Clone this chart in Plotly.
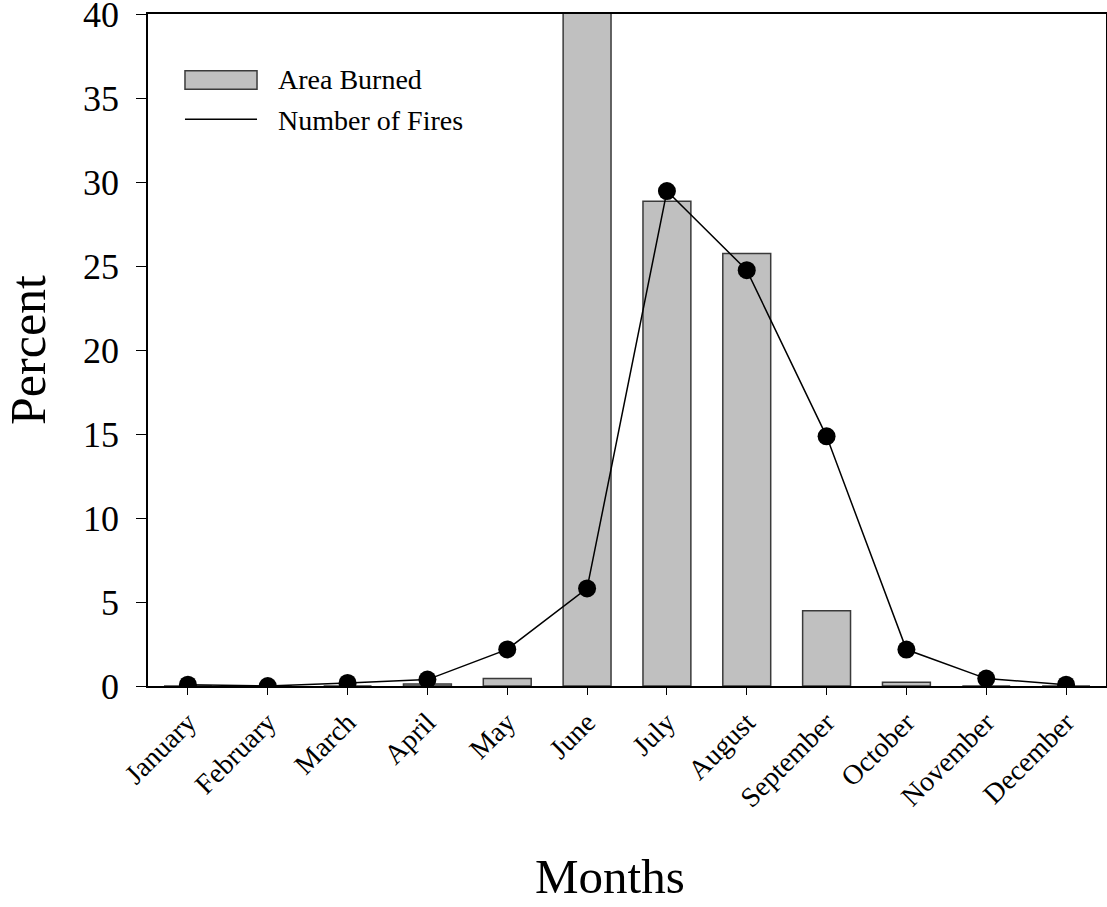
import plotly.graph_objects as go

months = ["January", "February", "March", "April", "May", "June",
          "July", "August", "September", "October", "November", "December"]
area_burned = [0.0, 0.0, 0.0, 0.12, 0.44, 42.0, 28.85, 25.75, 4.48, 0.22, 0.0, 0.0]
number_of_fires = [0.08, 0.0, 0.18, 0.38, 2.18, 5.81, 29.46, 24.75, 14.86, 2.17, 0.44, 0.08]
y_ticks = [0, 5, 10, 15, 20, 25, 30, 35, 40]
legend_labels = ["Area Burned", "Number of Fires"]

FONT = "Liberation Serif"
BAR_FILL = "#c0c0c0"
BAR_EDGE = "#3a3a3a"

fig = go.Figure()
fig.add_trace(go.Bar(
    x=months, y=area_burned, name=legend_labels[0], width=0.6, showlegend=False,
    marker=dict(color=BAR_FILL, line=dict(color=BAR_EDGE, width=1.5)),
))
fig.add_trace(go.Scatter(
    x=months, y=number_of_fires, mode="lines+markers", name=legend_labels[1],
    showlegend=False,
    line=dict(color="black", width=1.5),
    marker=dict(color="black", size=18),
))

# custom legend (paper coordinates)
fig.add_shape(type="rect", xref="paper", yref="paper",
              x0=0.0386, x1=0.1138, y0=0.888, y1=0.9156,
              fillcolor=BAR_FILL, line=dict(color=BAR_EDGE, width=1.5))
fig.add_shape(type="line", xref="paper", yref="paper",
              x0=0.0386, x1=0.1138, y0=0.8433, y1=0.8433,
              line=dict(color="black", width=1.5))
for label, yy in zip(legend_labels, [0.9025, 0.8415]):
    fig.add_annotation(text=label, xref="paper", yref="paper", x=0.1336, y=yy,
                       xanchor="left", yanchor="middle", showarrow=False,
                       font=dict(size=28, family=FONT, color="black"))

# x axis title as annotation (slightly left of centre as in reference)
fig.add_annotation(text="Months", xref="paper", yref="paper", x=0.482, y=-0.328,
                   xanchor="center", yanchor="bottom", showarrow=False,
                   font=dict(size=49, family=FONT, color="black"))

fig.update_layout(
    width=1107, height=907,
    margin=dict(l=148, r=1, t=14, b=221, autoexpand=False),
    plot_bgcolor="white", paper_bgcolor="white",
    font=dict(family=FONT, color="black"),
    showlegend=False,
)
fig.update_xaxes(
    type="category", range=[-0.5, 11.5], automargin=False,
    showline=True, linecolor="black", linewidth=1.5, mirror=True,
    ticks="outside", ticklen=7, tickcolor="black",
    tickangle=-45, tickfont=dict(size=28, family=FONT),
    showgrid=False, zeroline=False,
)
fig.update_yaxes(
    range=[0, 40], tickvals=y_ticks, ticklabeloverflow="allow", automargin=False,
    showline=True, linecolor="black", linewidth=1.5, mirror=True,
    ticks="outside", ticklen=10, tickcolor="black", ticklabelstandoff=10,
    tickfont=dict(size=36, family=FONT),
    title=dict(text="Percent", font=dict(size=50, family=FONT), standoff=26),
    showgrid=False, zeroline=False,
)

fig.write_html("out.html")
